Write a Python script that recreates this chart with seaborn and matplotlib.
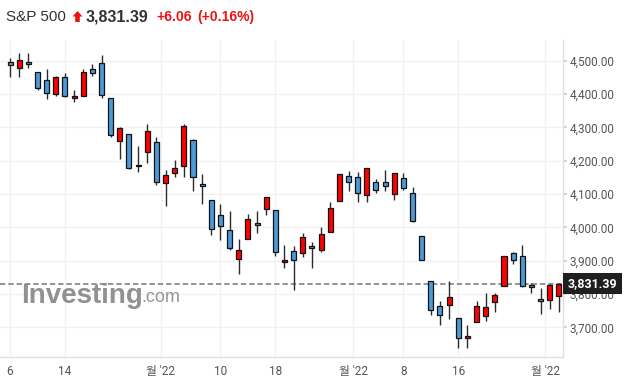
import pandas as pd
import seaborn as sns
import matplotlib
matplotlib.use("Agg")
import matplotlib.pyplot as plt
import matplotlib.transforms as mtrans
from matplotlib.patches import Polygon

# daily candles, S&P 500, 6 Apr 2022 .. 5 Jul 2022
opens = [4495, 4477, 4495, 4465, 4441, 4399, 4450, 4387, 4393, 4474,
         4492, 4388, 4259, 4280, 4187, 4227, 4257, 4133, 4163, 4184,
         4262, 4129, 4081, 4036, 3991, 3904, 3964, 4012, 4054, 4051,
         3896, 3928, 3922, 3943, 3932, 3985, 4078, 4153, 4150, 4096,
         4137, 4135, 4099, 4147, 4102, 3973, 3838, 3763, 3766, 3727,
         3667, 3715, 3733, 3775, 3823, 3922, 3913, 3826, 3784, 3781,
         3793]
highs = [4507, 4522, 4522, 4465, 4475, 4455, 4462, 4412, 4475, 4489,
         4517, 4388, 4301, 4280, 4245, 4311, 4271, 4171, 4203, 4311,
         4264, 4159, 4081, 4069, 4049, 3964, 4039, 4048, 4091, 4051,
         3946, 3943, 3982, 3955, 4000, 4075, 4159, 4168, 4166, 4177,
         4144, 4172, 4163, 4162, 4120, 3973, 3838, 3778, 3838, 3727,
         3706, 3778, 3802, 3802, 3913, 3925, 3946, 3833, 3817, 3830,
         3832]
lows = [4452, 4452, 4477, 4412, 4385, 4395, 4391, 4375, 4393, 4455,
        4387, 4271, 4205, 4176, 4166, 4193, 4127, 4065, 4150, 4151,
        4108, 4069, 3976, 3962, 3931, 3859, 3964, 3984, 4036, 3913,
        3877, 3812, 3910, 3877, 3926, 3985, 4078, 4108, 4075, 4075,
        4102, 4110, 4081, 4111, 4017, 3901, 3736, 3706, 3724, 3637,
        3637, 3715, 3718, 3745, 3823, 3889, 3820, 3802, 3739, 3754,
        3745]
closes = [4486, 4501, 4489, 4417, 4402, 4450, 4394, 4393, 4465, 4462,
          4397, 4277, 4298, 4178, 4183, 4289, 4137, 4156, 4178, 4304,
          4152, 4123, 3994, 4003, 3937, 3931, 4024, 4007, 4090, 3925,
          3901, 3903, 3972, 3939, 3979, 4057, 4159, 4135, 4102, 4177,
          4111, 4123, 4163, 4117, 4020, 3902, 3751, 3736, 3790, 3667,
          3673, 3763, 3760, 3796, 3913, 3901, 3823, 3820, 3778, 3826,
          3831.39]

last_price = 3831.39
change = "+6.06"
change_pct = "(+0.16%)"

# date ticks: day numbers sit on a session, month labels between sessions
tick_pos = [0, 6, 16.5, 23, 29, 37.5, 43, 49, 58.5]
tick_labels = ["6", "14", "월 '22", "10", "18", "월 '22", "8", "16", "월 '22"]
price_ticks = [3700, 3800, 3900, 4000, 4100, 4200, 4300, 4400, 4500]

UP = "#ff0000"
DOWN = "#4b9ad8"
RED_TXT = "#ee1111"

sns.set_theme(style="white")
plt.rcParams['font.family'] = ['Roboto', 'Noto Sans CJK KR', 'DejaVu Sans']

df = pd.DataFrame({"open": opens, "high": highs, "low": lows, "close": closes})
df["day"] = range(len(df))
df["bottom"] = df[["open", "close"]].min(axis=1)
df["body"] = (df["close"] - df["open"]).abs().clip(lower=5)
df["color"] = [UP if c > o else DOWN for o, c in zip(df["open"], df["close"])]

fig = plt.figure(figsize=(6.25, 3.85), dpi=100)
ax = fig.add_axes([0, 28 / 385, 563 / 625, 317 / 385])

ax.axhline(last_price, color="#8c8c8c", lw=1.3, dashes=(3, 1.6), zorder=1.5)
ax.vlines(df["day"], df["low"], df["high"], color="#2b2b2b", lw=1.0, zorder=2)
ax.bar(df["day"], df["body"], bottom=df["bottom"], width=0.55,
       color=df["color"], edgecolor="#111111", linewidth=0.9, zorder=3)

ax.set_xlim(-1.1, 60.45)
ax.set_ylim(3611, 4562)
ax.set_xticks(tick_pos)
ax.set_xticklabels(tick_labels)
ax.yaxis.tick_right()
ax.set_yticks(price_ticks)
ax.set_yticklabels([f"{v:,.2f}" for v in price_ticks])

ax.grid(True, color="#f1f1f1", lw=1)
ax.set_axisbelow(True)
for side in ["top", "left"]:
    ax.spines[side].set_visible(False)
for side in ["right", "bottom"]:
    ax.spines[side].set_color("#e0e0e0")
    ax.spines[side].set_linewidth(1)
ax.tick_params(axis="y", length=3, color="#cccccc", labelsize=8.5,
               labelcolor="#555555", pad=2)
ax.tick_params(axis="x", length=3, color="#dddddd", labelsize=8.5,
               labelcolor="#555555", pad=3)

# last price tag on the right axis
trans = mtrans.blended_transform_factory(ax.transAxes, ax.transData)
trans = trans + mtrans.ScaledTranslation(4.5 / 100, 0, fig.dpi_scale_trans)
ax.text(1.0, last_price, f"{last_price:,.2f}", transform=trans, ha="left",
        va="center", color="white", fontsize=9, fontweight="bold",
        bbox=dict(boxstyle="square,pad=0.35", fc="#1f1f1f", ec="none"),
        clip_on=False, zorder=5)

# watermark
fig.text(21 / 625, 1 - 296 / 385, "Investing", fontsize=20, fontweight="bold",
         color="#858585", alpha=0.9, va="center", family="Liberation Sans")
fig.text(141 / 625, 1 - 298 / 385, ".com", fontsize=13,
         color="#8a8a8a", alpha=0.9, va="center", family="Liberation Sans")

# header
hy = 1 - 17 / 385
fig.text(6 / 625, hy, "S&P 500", fontsize=11, color="#333333", va="center",
         family="Liberation Sans")
arrow_px = [(77.5, 11), (82.5, 16.5), (79.8, 16.5), (79.8, 22),
            (75.2, 22), (75.2, 16.5), (72.5, 16.5)]
fig.patches.append(Polygon([(x / 625, 1 - y / 385) for x, y in arrow_px],
                           closed=True, fc=RED_TXT, ec="none",
                           transform=fig.transFigure, figure=fig))
fig.text(86 / 625, hy, f"{last_price:,.2f}", fontsize=11.5, fontweight="bold",
         color="#333333", va="center", family="Liberation Sans")
fig.text(156 / 625, hy, change, fontsize=10, fontweight="bold",
         color=RED_TXT, va="center", family="Liberation Sans")
fig.text(197 / 625, hy, change_pct, fontsize=10, fontweight="bold",
         color=RED_TXT, va="center", family="Liberation Sans")

fig.savefig("out.png", dpi=100)
